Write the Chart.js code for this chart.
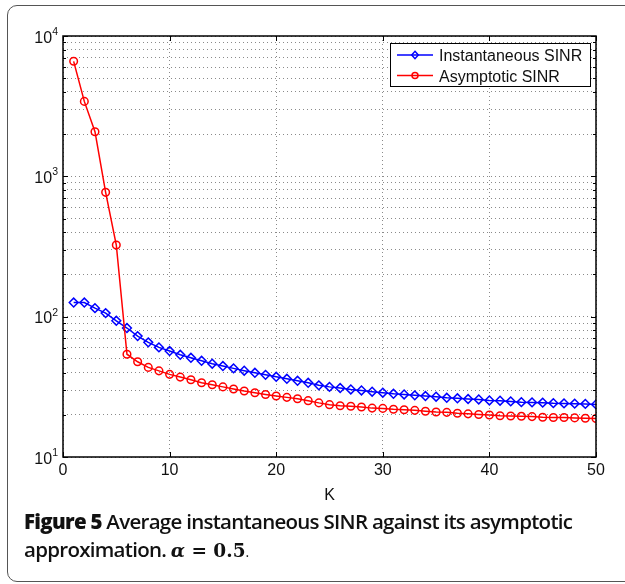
<!DOCTYPE html>
<html>
<head>
<meta charset="utf-8">
<script src="https://cdn.jsdelivr.net/npm/chart.js@4.4.0/dist/chart.umd.min.js"></script>
<style>
  html, body { margin: 0; padding: 0; background: #fff; overflow: hidden; }
  #wrap { position: relative; width: 625px; height: 584px; overflow: hidden; }
  #frame {
    position: absolute; left: 7px; top: 5px; width: 760px; height: 575px;
    border: 1.5px solid #555; border-radius: 10px;
  }
  #chart { position: absolute; left: 0; top: 0; }
  #caption {
    position: absolute; left: 24px; top: 507px;
    font-family: "Open Sans", "Lato", sans-serif; font-size: 20.5px; line-height: 28px;
    color: #111; font-weight: 600; white-space: nowrap;
  }
  #caption b { font-weight: 800; }
  #caption .m { font-family: "DejaVu Serif", "Liberation Serif", serif; font-weight: bold; font-size: 18.5px; letter-spacing: 0; }
  #caption .m i { font-weight: bold; }
  #caption .dot { font-size: 14px; font-weight: 400; }
</style>
</head>
<body>
<div id="wrap">
  <div id="frame"></div>
  <canvas id="chart" width="625" height="584"></canvas>
  <div id="caption"><span id="line1"><b>Figure 5</b> Average instantaneous SINR against its asymptotic</span><br><span id="line2">approximation. <span class="m"><i>α</i> = 0.5</span><span class="dot">.</span></span></div>
</div>
<script>
// Data
const kValues = [1, 2, 3, 4, 5, 6, 7, 8, 9, 10, 11, 12, 13, 14, 15, 16, 17, 18, 19, 20,
  21, 22, 23, 24, 25, 26, 27, 28, 29, 30, 31, 32, 33, 34, 35, 36, 37, 38, 39, 40,
  41, 42, 43, 44, 45, 46, 47, 48, 49, 50];

const instantaneousSinr = [126, 126, 115, 106, 93.5, 83, 72.7, 65.6, 60.4, 56.9,
  53.5, 50.9, 48.5, 46.2, 44.5, 42.8, 41.2, 39.8, 38.5, 37.3,
  36.1, 34.9, 33.8, 32.4, 31.6, 31.0, 30.3, 29.8, 29.2, 28.7,
  28.2, 27.9, 27.5, 27.2, 26.9, 26.4, 26.2, 25.9, 25.7, 25.3,
  25.2, 24.9, 24.6, 24.5, 24.4, 24.2, 24.1, 24.0, 23.9, 23.7];

const asymptoticSinr = [6600, 3420, 2080, 769, 324, 54, 47.7, 43.5, 41.1, 38.8,
  37.1, 35.5, 33.8, 32.7, 31.6, 30.5, 29.5, 28.7, 27.9, 27.2,
  26.6, 26.0, 25.2, 24.3, 23.6, 23.2, 23.0, 22.7, 22.3, 22.2,
  21.9, 21.7, 21.5, 21.2, 20.9, 20.8, 20.5, 20.3, 20.1, 19.9,
  19.7, 19.6, 19.5, 19.4, 19.2, 19.1, 19.1, 19.0, 18.9, 18.8];

const xTicks = [0, 10, 20, 30, 40, 50];
const yDecades = [10, 100, 1000, 10000];
const yExponents = ["1", "2", "3", "4"];
const seriesNames = ["Instantaneous SINR", "Asymptotic SINR"];

const BLUE = "#0000ff";
const RED = "#ff0000";
const TICK_FONT = '16px "Liberation Sans", Arial, sans-serif';
const EXP_FONT = '10.5px "Liberation Sans", Arial, sans-serif';

// minor + major grid values for the log axis
function logGridValues() {
  const vals = [];
  for (let d = 0; d < yDecades.length - 1; d++) {
    for (let m = 1; m < 10; m++) vals.push(yDecades[d] * m);
  }
  vals.push(yDecades[yDecades.length - 1]);
  return vals;
}

function drawDiamond(ctx, x, y, r) {
  ctx.beginPath();
  ctx.moveTo(x, y - r * 1.1);
  ctx.lineTo(x + r, y);
  ctx.lineTo(x, y + r * 1.1);
  ctx.lineTo(x - r, y);
  ctx.closePath();
  ctx.stroke();
}

// Box, inner tick marks, tick labels, axis title and legend (MATLAB look)
const matlabAxes = {
  id: "matlabAxes",
  afterDraw(chart) {
    const ctx = chart.ctx;
    const a = chart.chartArea;
    const xs = chart.scales.x;
    const ys = chart.scales.y;
    ctx.save();

    // inner ticks
    ctx.strokeStyle = "#000";
    ctx.lineWidth = 1;
    ctx.beginPath();
    xTicks.forEach((t) => {
      const px = Math.round(xs.getPixelForValue(t)) + 0.5;
      ctx.moveTo(px, a.bottom); ctx.lineTo(px, a.bottom - 5);
      ctx.moveTo(px, a.top); ctx.lineTo(px, a.top + 5);
    });
    logGridValues().forEach((v) => {
      const py = Math.round(ys.getPixelForValue(v)) + 0.5;
      const len = yDecades.includes(v) ? 5 : 3;
      ctx.moveTo(a.left, py); ctx.lineTo(a.left + len, py);
      ctx.moveTo(a.right, py); ctx.lineTo(a.right - len, py);
    });
    ctx.stroke();

    // box
    ctx.lineWidth = 1.5;
    ctx.strokeRect(a.left, a.top, a.right - a.left, a.bottom - a.top);

    // x tick labels
    ctx.fillStyle = "#111";
    ctx.font = TICK_FONT;
    ctx.textAlign = "center";
    ctx.textBaseline = "alphabetic";
    xTicks.forEach((t) => {
      ctx.fillText(String(t), xs.getPixelForValue(t), a.bottom + 18);
    });
    ctx.fillText("K", (a.left + a.right) / 2, a.bottom + 43);

    // y tick labels as 10^n
    ctx.textAlign = "left";
    yDecades.forEach((v, i) => {
      const py = ys.getPixelForValue(v);
      ctx.font = EXP_FONT;
      const ew = ctx.measureText(yExponents[i]).width;
      ctx.font = TICK_FONT;
      const bw = ctx.measureText("10").width;
      const xEnd = a.left - 5;
      ctx.fillText("10", xEnd - ew - bw, py + 6.5);
      ctx.font = EXP_FONT;
      ctx.fillText(yExponents[i], xEnd - ew, py - 1);
    });

    // legend
    const lx = 390.5, ly = 43.5, lw = 200, lh = 43;
    ctx.fillStyle = "#fff";
    ctx.fillRect(lx, ly, lw, lh);
    ctx.lineWidth = 1;
    ctx.strokeStyle = "#000";
    ctx.strokeRect(lx, ly, lw, lh);
    const rows = [ly + 11.5, ly + 32];
    const colors = [BLUE, RED];
    rows.forEach((ry, i) => {
      ctx.strokeStyle = colors[i];
      ctx.lineWidth = 1.5;
      ctx.beginPath();
      ctx.moveTo(397, ry); ctx.lineTo(433, ry);
      ctx.stroke();
      if (i === 0) {
        drawDiamond(ctx, 415, ry, 3.3);
      } else {
        ctx.beginPath();
        ctx.arc(415, ry, 3, 0, Math.PI * 2);
        ctx.stroke();
      }
      ctx.fillStyle = "#111";
      ctx.font = TICK_FONT;
      ctx.fillText(seriesNames[i], 439, ry + 6);
    });
    ctx.restore();
  },
};

const ctx = document.getElementById("chart").getContext("2d");
new Chart(ctx, {
  type: "line",
  data: {
    datasets: [
      {
        label: seriesNames[0],
        data: kValues.map((k, i) => ({ x: k, y: instantaneousSinr[i] })),
        borderColor: BLUE,
        borderWidth: 1.5,
        pointStyle: "rectRot",
        pointRadius: 4.4,
        pointBorderWidth: 1.5,
        pointBorderColor: BLUE,
        pointBackgroundColor: "rgba(0,0,0,0)",
        tension: 0,
        order: 1,
      },
      {
        label: seriesNames[1],
        data: kValues.map((k, i) => ({ x: k, y: asymptoticSinr[i] })),
        borderColor: RED,
        borderWidth: 1.5,
        pointStyle: "circle",
        pointRadius: 3.8,
        pointBorderWidth: 1.5,
        pointBorderColor: RED,
        pointBackgroundColor: "rgba(0,0,0,0)",
        tension: 0,
        order: 0,
      },
    ],
  },
  options: {
    responsive: false,
    animation: false,
    events: [],
    layout: { padding: { left: 63, top: 36, right: 29, bottom: 127 } },
    plugins: { legend: { display: false }, tooltip: { enabled: false } },
    scales: {
      x: {
        type: "linear",
        min: 0,
        max: 50,
        ticks: { display: false, stepSize: 10 },
        grid: { color: "#8a8a8a", lineWidth: 1, drawTicks: false },
        border: { display: false, dash: [1, 3] },
      },
      y: {
        type: "logarithmic",
        min: 10,
        max: 10000,
        afterBuildTicks: (scale) => {
          scale.ticks = logGridValues().map((v) => ({ value: v }));
        },
        ticks: { display: false },
        grid: { color: "#8a8a8a", lineWidth: 1, drawTicks: false },
        border: { display: false, dash: [1, 3] },
      },
    },
  },
  plugins: [matlabAxes],
});

// fit caption line 1 to the measured width of the original
const line1 = document.getElementById("line1");
const target = 548;
const w = line1.getBoundingClientRect().width;
const n = line1.textContent.length;
const ls = (target - w) / n;
document.getElementById("caption").style.letterSpacing = ls.toFixed(2) + "px";
</script>
</body>
</html>
